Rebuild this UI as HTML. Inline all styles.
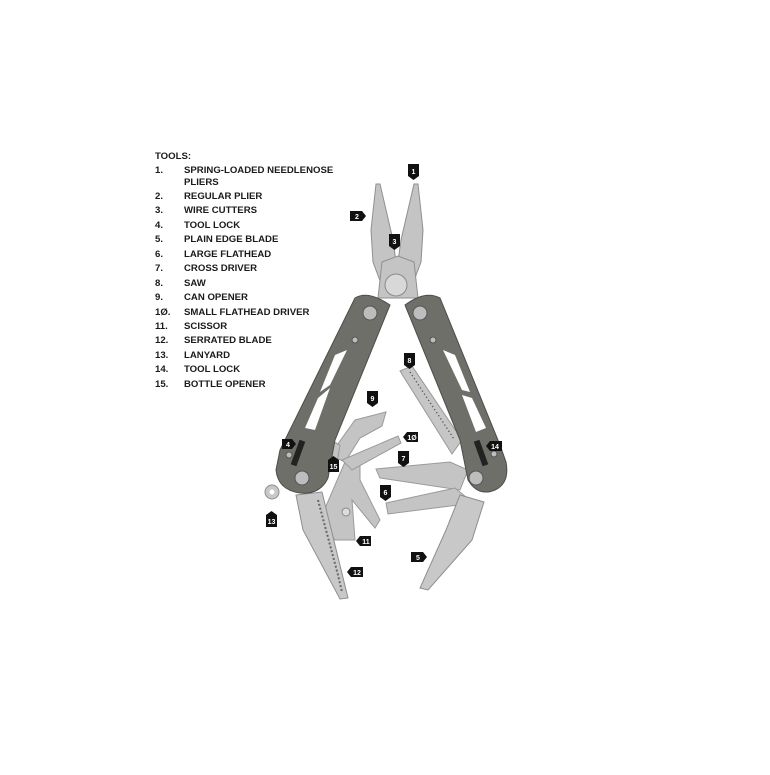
<!DOCTYPE html>
<html><head><style>
html,body{margin:0;padding:0;background:#fff;}
.t{font-family:"Liberation Sans",sans-serif;font-size:9.6px;font-weight:bold;fill:#1a1a1a;}
.l{font-family:"Liberation Sans",sans-serif;font-size:7px;font-weight:bold;fill:#fff;text-anchor:middle;}
</style></head><body>
<svg width="770" height="770" viewBox="0 0 770 770" xmlns="http://www.w3.org/2000/svg">
<rect width="770" height="770" fill="#fff"/>
<g class="t">
<text x="155" y="159">TOOLS:</text>
<text x="155" y="173">1.</text><text x="184" y="173">SPRING-LOADED NEEDLENOSE</text>
<text x="184" y="185">PLIERS</text>
<text x="155" y="199">2.</text><text x="184" y="199">REGULAR PLIER</text>
<text x="155" y="213">3.</text><text x="184" y="213">WIRE CUTTERS</text>
<text x="155" y="228">4.</text><text x="184" y="228">TOOL LOCK</text>
<text x="155" y="242">5.</text><text x="184" y="242">PLAIN EDGE BLADE</text>
<text x="155" y="257">6.</text><text x="184" y="257">LARGE FLATHEAD</text>
<text x="155" y="271">7.</text><text x="184" y="271">CROSS DRIVER</text>
<text x="155" y="286">8.</text><text x="184" y="286">SAW</text>
<text x="155" y="300">9.</text><text x="184" y="300">CAN OPENER</text>
<text x="155" y="315">1Ø.</text><text x="184" y="315">SMALL FLATHEAD DRIVER</text>
<text x="155" y="329">11.</text><text x="184" y="329">SCISSOR</text>
<text x="155" y="343">12.</text><text x="184" y="343">SERRATED BLADE</text>
<text x="155" y="358">13.</text><text x="184" y="358">LANYARD</text>
<text x="155" y="372">14.</text><text x="184" y="372">TOOL LOCK</text>
<text x="155" y="387">15.</text><text x="184" y="387">BOTTLE OPENER</text>
</g>

<!-- plier jaws -->
<g fill="#c4c4c4" stroke="#8f8f8f" stroke-width="1">
<polygon points="376,184 380,184 393,240 396,262 392,284 382,286 373,262 371,230"/>
<polygon points="414,184 418,184 423,230 421,262 412,286 402,284 398,262 401,240"/>
<polygon points="382,262 398,256 414,262 418,298 378,298"/>
</g>
<circle cx="396" cy="285" r="11" fill="#d8d8d8" stroke="#8a8a8a"/>

<!-- saw -->
<polygon points="400,371 412,366 462,440 452,454" fill="#c6c6c6" stroke="#999"/>
<line x1="410" y1="372" x2="454" y2="439" stroke="#555" stroke-width="1.4" stroke-dasharray="1.2,2.5"/>

<!-- center tools -->
<g fill="#c4c4c4" stroke="#9a9a9a" stroke-width="1">
<polygon points="345,462 320,520 335,540 355,540 352,500 375,528 380,520 360,480 360,462"/>
<polygon points="330,455 355,420 386,412 382,426 360,438 345,462"/>
<polygon points="318,472 330,440 340,445 336,468"/>
<polygon points="342,460 398,436 401,443 352,470"/>
<polygon points="376,469 450,462 468,470 460,490 380,478"/>
<polygon points="386,503 455,488 466,497 458,505 388,514"/>
</g>
<circle cx="346" cy="512" r="4" fill="#ddd" stroke="#888"/>

<!-- blades -->
<polygon points="296,495 322,492 348,598 340,599 303,530" fill="#c8c8c8" stroke="#8e8e8e"/>
<path d="M318,500 L322,515 L326,530 L330,545 L334,560 L338,575 L342,592" stroke="#666" stroke-width="2" fill="none" stroke-dasharray="2,2"/>
<polygon points="460,495 484,502 472,540 428,590 420,588 446,530" fill="#c8c8c8" stroke="#8e8e8e"/>
<!-- lanyard -->
<circle cx="272" cy="492" r="7" fill="#c8c8c8" stroke="#8e8e8e"/>
<circle cx="272" cy="492" r="2.5" fill="#fff"/>

<!-- handles -->
<path d="M355,298 Q368,290 390,305 L335,440 L328,478 Q320,495 300,493 Q278,490 276,470 L280,450 Z" fill="#6f6f69" stroke="#4d4d4a"/>
<path d="M440,298 Q425,290 405,305 L460,440 L468,480 Q478,497 495,490 Q510,483 506,462 L500,445 Z" fill="#6f6f69" stroke="#4d4d4a"/>
<g fill="#fff">
<polygon points="335,355 347,350 330,385 320,392"/>
<polygon points="318,398 330,388 315,430 305,428"/>
<polygon points="455,355 443,350 462,390 470,392"/>
<polygon points="472,398 462,395 476,432 486,428"/>
</g>
<g fill="#bdbdbd" stroke="#555">
<circle cx="370" cy="313" r="7"/><circle cx="420" cy="313" r="7"/>
<circle cx="302" cy="478" r="7"/><circle cx="476" cy="478" r="7"/>
<circle cx="355" cy="340" r="3"/><circle cx="433" cy="340" r="3"/>
<circle cx="289" cy="455" r="3"/><circle cx="494" cy="454" r="3"/>
</g>
<rect x="295" y="440" width="6" height="26" fill="#222" transform="rotate(20 298 453)"/>
<rect x="478" y="440" width="6" height="26" fill="#222" transform="rotate(-20 481 453)"/>

<!-- labels -->
<g fill="#111">
<path d="M408,164 h11 v12 l-5.5,4 l-5.5,-4 z"/>
<path d="M350,211 h12 l4,5 l-4,5 h-12 z"/>
<path d="M389,234 h11 v12 l-5.5,4 l-5.5,-4 z"/>
<path d="M282,439 h10 l4,5 l-4,5 h-10 z"/>
<path d="M411,552 h12 l4,5 l-4,5 h-12 z"/>
<path d="M380,485 h11 v12 l-5.5,4 l-5.5,-4 z"/>
<path d="M398,451 h11 v12 l-5.5,4 l-5.5,-4 z"/>
<path d="M404,353 h11 v12 l-5.5,4 l-5.5,-4 z"/>
<path d="M367,391 h11 v12 l-5.5,4 l-5.5,-4 z"/>
<path d="M407,432 h11 v10 h-11 l-4,-5 z"/>
<path d="M360,536 h11 v10 h-11 l-4,-5 z"/>
<path d="M351,567 h12 v10 h-12 l-4,-5 z"/>
<path d="M266,515 l5.5,-4 l5.5,4 v12 h-11 z"/>
<path d="M490,441 h12 v10 h-12 l-4,-5 z"/>
<path d="M328,460 l5.5,-4 l5.5,4 v12 h-11 z"/>
</g>
<g class="l">
<text x="413.5" y="174">1</text>
<text x="357" y="219">2</text>
<text x="394.5" y="244">3</text>
<text x="288" y="447">4</text>
<text x="418" y="560">5</text>
<text x="385.5" y="495">6</text>
<text x="403.5" y="461">7</text>
<text x="409.5" y="363">8</text>
<text x="372.5" y="401">9</text>
<text x="412" y="440">1Ø</text>
<text x="366" y="544">11</text>
<text x="357" y="575">12</text>
<text x="271.5" y="524">13</text>
<text x="495" y="449">14</text>
<text x="333.5" y="469">15</text>
</g>
</svg>
</body></html>
